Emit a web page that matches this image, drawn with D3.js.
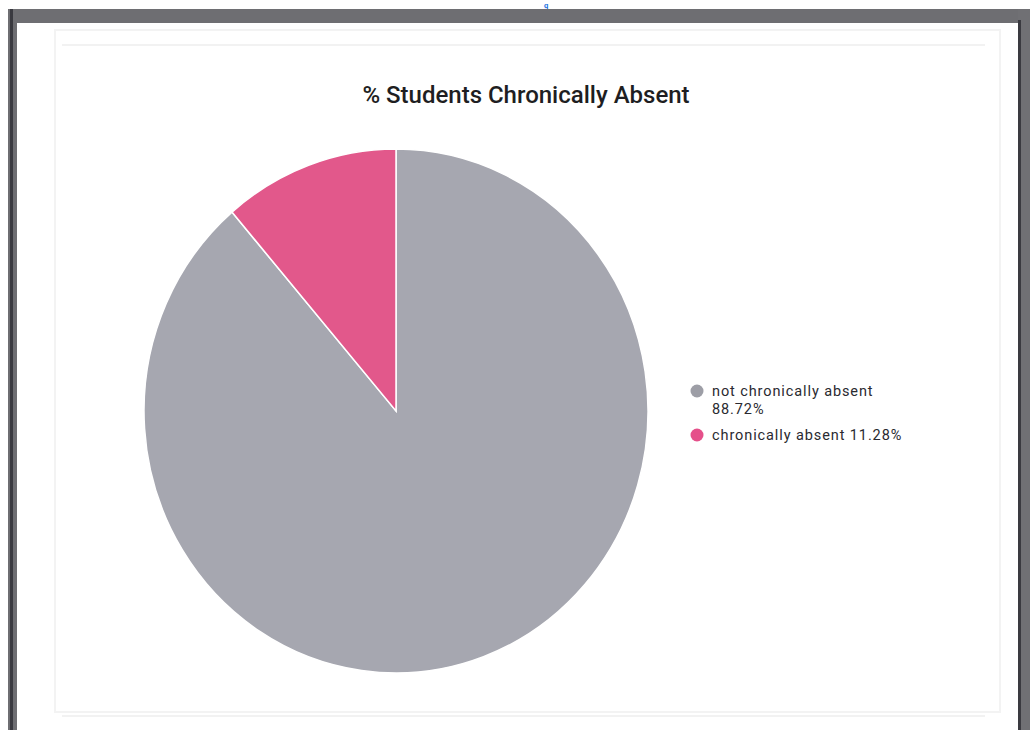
<!DOCTYPE html>
<html>
<head>
<meta charset="utf-8">
<script src="https://cdn.jsdelivr.net/npm/d3@7/dist/d3.min.js"></script>
<style>
  html, body { margin: 0; padding: 0; background: #ffffff; }
  svg { display: block; }
</style>
</head>
<body>
<svg id="chart" width="1030" height="730"></svg>
<script>
const title = "% Students Chronically Absent";
const categories = ["not chronically absent", "chronically absent"];
const values = [88.72, 11.28];
const legendLines = [["not chronically absent", "88.72%"], ["chronically absent 11.28%"]];
const colors = ["#a6a7b0", "#e2588b"];
const legendColors = ["#9d9ea6", "#e5508a"];

const svg = d3.select("#chart");
const W = 1030, H = 730;

// page background and scanned frame
svg.append("rect").attr("x", 0).attr("y", 0).attr("width", W).attr("height", H).attr("fill", "#ffffff");
svg.append("text").attr("x", 544).attr("y", 7.5).attr("fill", "#1a6fe0")
  .attr("font-family", "Roboto, sans-serif").attr("font-size", 7.5).attr("font-weight", 700).text("g");
// dark border bands
svg.append("rect").attr("x", 8).attr("y", 9).attr("width", 1022).attr("height", 14).attr("fill", "#6e6e72");
svg.append("rect").attr("x", 8).attr("y", 9).attr("width", 9).attr("height", H - 9).attr("fill", "#6e6e72");
svg.append("rect").attr("x", 10).attr("y", 9).attr("width", 3).attr("height", H - 9).attr("fill", "#3a3a40");
svg.append("rect").attr("x", 1018).attr("y", 9).attr("width", 12).attr("height", H - 9).attr("fill", "#707074");
svg.append("rect").attr("x", 1018).attr("y", 20).attr("width", 3).attr("height", H - 20).attr("fill", "#3a3a40");
// faint card outline
svg.append("rect").attr("x", 55).attr("y", 30).attr("width", 945).attr("height", 682)
  .attr("fill", "none").attr("stroke", "#f3f3f3").attr("stroke-width", 2);
svg.append("line").attr("x1", 62).attr("x2", 985).attr("y1", 45).attr("y2", 45)
  .attr("stroke", "#f2f2f2").attr("stroke-width", 2);
svg.append("line").attr("x1", 62).attr("x2", 985).attr("y1", 716).attr("y2", 716)
  .attr("stroke", "#f2f2f2").attr("stroke-width", 2);

// title
svg.append("text").attr("x", 526).attr("y", 103).attr("text-anchor", "middle")
  .attr("font-family", "Roboto, sans-serif").attr("font-size", 24).attr("font-weight", 500)
  .attr("fill", "#1e1e22")
  .text(title);

// pie
const cx = 396, cy = 411, r = 252, ry = 262;
const pie = d3.pie().sort(null).startAngle(0).endAngle(2 * Math.PI);
const arcs = pie(values);
const arc = d3.arc().innerRadius(0).outerRadius(r);
const g = svg.append("g").attr("transform", `translate(${cx},${cy}) scale(1,${ry / r})`);
g.selectAll("path").data(arcs).join("path")
  .attr("d", arc)
  .attr("fill", (d, i) => colors[i])
  .attr("stroke", "#ffffff")
  .attr("stroke-width", 1.5);

// legend
const lg = svg.append("g").attr("font-family", "Roboto, sans-serif").attr("font-size", 14.5)
  .attr("letter-spacing", "0.9px").attr("fill", "#2a2a30");
let y = 396;
legendLines.forEach((lines, i) => {
  lg.append("circle").attr("cx", 697).attr("cy", y - 5).attr("r", 6.5).attr("fill", legendColors[i]);
  lines.forEach((t, j) => {
    lg.append("text").attr("x", 712).attr("y", y + j * 18).text(t);
  });
  y += lines.length * 18 + 8;
});
</script>
</body>
</html>
